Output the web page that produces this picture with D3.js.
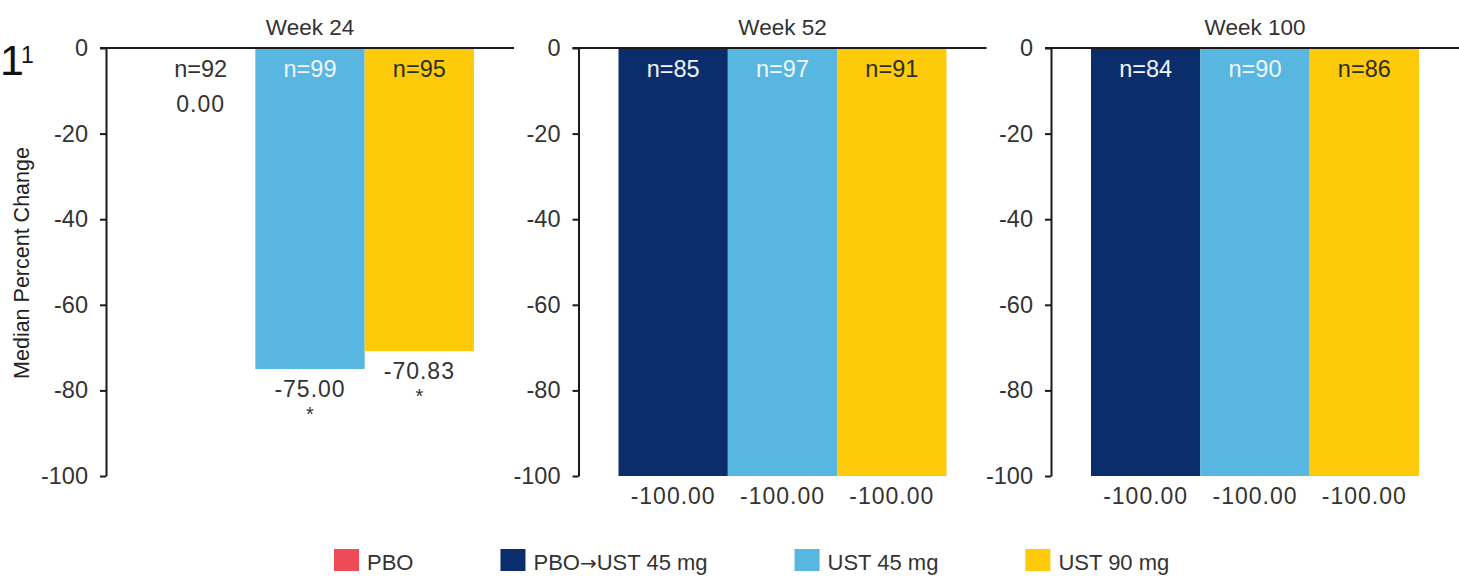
<!DOCTYPE html>
<html>
<head>
<meta charset="utf-8">
<script src="https://cdn.jsdelivr.net/npm/d3@7"></script>
<style>
  html, body { margin: 0; padding: 0; background: #fff; }
  svg { display: block; font-family: "Liberation Sans", Arial, sans-serif; }
</style>
</head>
<body>
<svg id="chart" width="1459" height="577"></svg>
<script>
// Median percent change by visit and treatment arm
const weeks = ["Week 24", "Week 52", "Week 100"];
const arms = [
  ["PBO", "UST 45 mg", "UST 90 mg"],
  ["PBO→UST 45 mg", "UST 45 mg", "UST 90 mg"],
  ["PBO→UST 45 mg", "UST 45 mg", "UST 90 mg"]
];
const medians = [
  [0.00, -75.00, -70.83],
  [-100.00, -100.00, -100.00],
  [-100.00, -100.00, -100.00]
];
const nCounts = [
  [92, 99, 95],
  [85, 97, 91],
  [84, 90, 86]
];
const significance = [
  ["", "*", "*"],
  ["", "", ""],
  ["", "", ""]
];
const yTicks = [0, -20, -40, -60, -80, -100];
const legendArms = ["PBO", "PBO→UST 45 mg", "UST 45 mg", "UST 90 mg"];
const armColors = ["#ee4b57", "#0b2d6b", "#58b7e0", "#fdcb0a"];
const nLabelColors = ["#333333", "#f2f5fa", "#f2f5fa", "#2e2e22"];

const svg = d3.select("#chart");
const textColor = "#333333";

const color = d3.scaleOrdinal().domain(legendArms).range(armColors);
const nColor = d3.scaleOrdinal().domain(legendArms).range(nLabelColors);

// plain hyphen-minus for negative numbers
const fmtInt = d => String(d);
const fmt2 = d => d.toFixed(2);

// panel placement and shared value scale
const panelX = d3.scaleBand().domain(weeks).range([106, 106 + 3 * 472.5]).padding(0);
const y = d3.scaleLinear().domain([-100, 0]).range([476, 48]);
const slot = d3.scaleBand().domain([0, 1, 2]).range([40, 368]).padding(0);
const panelRight = 408;

weeks.forEach((wk, wi) => {
  const g = svg.append("g").attr("transform", `translate(${panelX(wk)},0)`);

  const rows = arms[wi].map((arm, i) => ({
    arm, i, v: medians[wi][i], n: nCounts[wi][i], sig: significance[wi][i]
  }));

  // bars
  g.selectAll("rect.bar").data(rows).join("rect")
    .attr("class", "bar")
    .attr("x", d => slot(d.i))
    .attr("width", slot.bandwidth())
    .attr("y", y(0))
    .attr("height", d => y(d.v) - y(0))
    .attr("fill", d => color(d.arm));

  // axis
  const axis = d3.axisLeft(y).tickValues(yTicks).tickSize(6).tickSizeOuter(0).tickPadding(12)
    .tickFormat(fmtInt);
  const ag = g.append("g").call(axis);
  ag.select(".domain").attr("stroke", "#1a1a1a").attr("stroke-width", 2);
  ag.selectAll(".tick line").attr("stroke", "#1a1a1a").attr("stroke-width", 2);
  ag.selectAll(".tick text")
    .attr("fill", textColor)
    .style("font-size", "23.5px")
    .style("font-family", "'Liberation Sans', Arial, sans-serif");

  // zero baseline across the panel
  g.append("line")
    .attr("x1", -6).attr("x2", panelRight)
    .attr("y1", y(0)).attr("y2", y(0))
    .attr("stroke", "#1a1a1a").attr("stroke-width", 2);

  // panel title
  g.append("text")
    .attr("x", (slot.range()[0] + slot.range()[1]) / 2)
    .attr("y", 35)
    .attr("text-anchor", "middle")
    .attr("fill", textColor)
    .style("font-size", "22.5px")
    .text(wk);

  // n labels at the top of each bar
  g.selectAll("text.n").data(rows).join("text")
    .attr("class", "n")
    .attr("x", d => slot(d.i) + slot.bandwidth() / 2)
    .attr("y", y(0) + 29)
    .attr("text-anchor", "middle")
    .attr("fill", d => d.v === 0 ? textColor : nColor(d.arm))
    .style("font-size", "23.5px")
    .text(d => "n=" + d.n);

  // median value labels below each bar
  const valBase = d => d.v === 0 ? y(0) + 29 + 35 : y(d.v) + 28;
  g.selectAll("text.val").data(rows).join("text")
    .attr("class", "val")
    .attr("x", d => slot(d.i) + slot.bandwidth() / 2)
    .attr("y", valBase)
    .attr("text-anchor", "middle")
    .attr("fill", textColor)
    .style("font-size", "23px")
    .style("letter-spacing", "1px")
    .text(d => fmt2(d.v));

  g.selectAll("text.sig").data(rows.filter(d => d.sig)).join("text")
    .attr("class", "sig")
    .attr("x", d => slot(d.i) + slot.bandwidth() / 2)
    .attr("y", d => valBase(d) + 24)
    .attr("text-anchor", "middle")
    .attr("fill", textColor)
    .style("font-size", "20px")
    .text(d => d.sig);
});

// y-axis title
svg.append("text")
  .attr("transform", "translate(29,263) rotate(-90)")
  .attr("text-anchor", "middle")
  .attr("fill", "#222")
  .style("font-size", "21.5px")
  .text("Median Percent Change");

// figure number fragment at top left
svg.append("text").attr("x", 0).attr("y", 75).attr("fill", "#111")
  .style("font-size", "43px").text("1");
svg.append("text").attr("x", 21).attr("y", 63).attr("fill", "#111")
  .style("font-size", "23px").text("1");

// legend
const legend = svg.append("g");
let lx = 334;
legendArms.forEach(arm => {
  const item = legend.append("g").attr("transform", `translate(${lx},0)`);
  item.append("rect").attr("x", 0).attr("y", 549).attr("width", 25).attr("height", 22)
    .attr("fill", color(arm));
  const t = item.append("text").attr("x", 33).attr("y", 570)
    .attr("fill", textColor)
    .style("font-size", "22px");
  // the arrow glyph is drawn in DejaVu Sans so it reads at full size
  arm.split(/(→)/).forEach(part => {
    if (!part) return;
    const ts = t.append("tspan").text(part);
    if (part === "→") ts.style("font-family", "'DejaVu Sans', sans-serif").style("font-size", "20px");
  });
  lx += 33 + t.node().getComputedTextLength() + 87;
});
</script>
</body>
</html>
